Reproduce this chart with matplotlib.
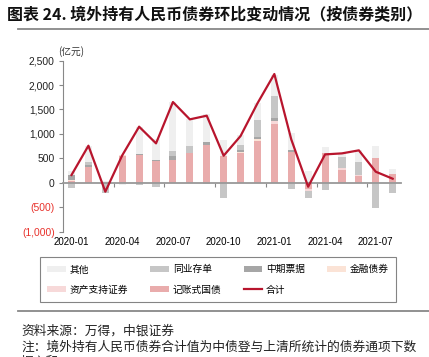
import numpy as np
import matplotlib
matplotlib.use('Agg')
import matplotlib.pyplot as plt
from matplotlib.lines import Line2D

plt.rcParams['font.family'] = ['Noto Sans CJK SC', 'DejaVu Sans']

months = ['2020-01', '2020-02', '2020-03', '2020-04', '2020-05', '2020-06', '2020-07',
          '2020-08', '2020-09', '2020-10', '2020-11', '2020-12', '2021-01', '2021-02',
          '2021-03', '2021-04', '2021-05', '2021-06', '2021-07', '2021-08']

# 亿元
guozhai = [40, 314, -15, 546, 560, 444, 464, 610, 765, 546, 615, 860, 1202, 621, -130, 601, 260, 143, 499, 178]
abs_sec = [0, 0, 0, 0, 0, 0, 0, 0, 0, 0, 0, 0, 68, 0, -30, 0, 40, 20, 0, 0]
jinrong = [15, 10, 0, 20, 0, 0, 0, 0, 0, 8, 20, 34, 0, 0, 0, 10, 0, 0, 0, 0]
mtn = [110, 40, 0, 0, 27, 20, 89, 0, 60, 0, 34, 34, 55, 48, 0, 0, 0, 0, 0, 0]
ncd = [-116, 70, -190, 0, -40, -96, 96, 140, -30, -321, 102, 355, 451, -130, -160, -150, 225, 260, -526, -205]
qita = [70, 324, 40, -45, 563, 436, 1004, 548, 575, 320, 206, 343, 424, 341, 250, 123, 76, 240, 260, 102]
total = [158, 758, -184, 560, 1148, 806, 1653, 1298, 1373, 553, 956, 1626, 2227, 888, -82, 580, 601, 663, 225, 82]

series = [
    ('记账式国债', guozhai, '#e9acac'),
    ('资产支持证券', abs_sec, '#f7d9d9'),
    ('金融债券', jinrong, '#fbe3d6'),
    ('中期票据', mtn, '#a6a6a6'),
    ('同业存单', ncd, '#c6c6c6'),
    ('其他', qita, '#efefef'),
]

num_font = ['Liberation Sans', 'DejaVu Sans']

fig = plt.figure(figsize=(4.29, 3.57), dpi=100)
ax = fig.add_axes([0.147, 0.3515, 0.788, 0.4785])

x = np.arange(len(months))
pos_bottom = np.zeros(len(months))
neg_bottom = np.zeros(len(months))
handles = {}
for name, vals, col in series:
    v = np.array(vals, dtype=float)
    b = np.where(v >= 0, pos_bottom, neg_bottom)
    bars = ax.bar(x, v, 0.42, bottom=b, color=col, linewidth=0, zorder=2)
    handles[name] = bars
    pos_bottom += np.where(v >= 0, v, 0)
    neg_bottom += np.where(v < 0, v, 0)

line, = ax.plot(x, total, color='#b8152d', lw=1.6, zorder=4)

ax.set_xlim(-0.5, len(months) - 0.5)
ax.set_ylim(-1000, 2500)
yt = np.arange(-1000, 2501, 500)
ax.set_yticks(yt)
ax.set_yticklabels([f'({-t:,})' if t < 0 else f'{t:,}' for t in yt], family=num_font, fontsize=7.4)
for lbl, t in zip(ax.get_yticklabels(), yt):
    lbl.set_color('#e8322c' if t < 0 else '#222222')
ax.tick_params(axis='y', length=3, color='#888888', pad=3)

for s in ['top', 'right']:
    ax.spines[s].set_visible(False)
ax.spines['left'].set_color('#888888')
ax.spines['bottom'].set_position(('data', 0))
ax.spines['bottom'].set_color('#999999')
ax.spines['bottom'].set_linewidth(1.3)
ax.spines['bottom'].set_zorder(3)
ax.set_xticks(np.arange(2.5, 18, 3))
ax.set_xticklabels([])
ax.tick_params(axis='x', length=3, color='#888888')

sec = ax.secondary_xaxis(location=0.0)
sec.set_xticks(x[::3])
sec.set_xticklabels(months[::3], family=num_font, fontsize=7)
sec.tick_params(length=0, pad=4)
sec.spines['bottom'].set_visible(False)

fig.text(58 / 429, 1 - 52 / 357, '(亿元)', fontsize=7, ha='left', va='center', color='#333333')

# title and separators
fig.text(0.016, 1 - 15.5 / 357, '图表 24. 境外持有人民币债券环比变动情况（按债券类别）', fontsize=11.5,
         fontweight='bold', ha='left', va='center', color='#111111')
fig.add_artist(Line2D([0.042, 1.0], [1 - 29 / 357, 1 - 29 / 357], color='#888888', lw=1.3))
fig.add_artist(Line2D([0.042, 1.0], [1 - 311 / 357, 1 - 311 / 357], color='#888888', lw=1.3))

order = ['其他', '资产支持证券', '同业存单', '记账式国债', '中期票据', '合计', '金融债券']
hs = [line if n == '合计' else handles[n] for n in order]
leg = fig.legend(hs, order, ncol=4, loc='center', bbox_to_anchor=(0.508, 1 - 279.5 / 357),
                 fontsize=7, frameon=True, fancybox=False, edgecolor='#666666',
                 handlelength=1.9, handleheight=0.5, columnspacing=2.3, borderpad=0.75,
                 labelspacing=1.05, handletextpad=0.4)
leg.get_frame().set_linewidth(0.8)

fig.text(0.049, 1 - 331 / 357, '资料来源：万得，中银证券', fontsize=9.2, ha='left', va='center', color='#222222')
fig.text(0.049, 1 - 347 / 357, '注：境外持有人民币债券合计值为中债登与上清所统计的债券通项下数',
         fontsize=9.2, ha='left', va='center', color='#222222')
fig.text(0.049, 1 - 362 / 357, '据之和', fontsize=9.2, ha='left', va='center', color='#222222')

fig.savefig('out.png', dpi=100)
